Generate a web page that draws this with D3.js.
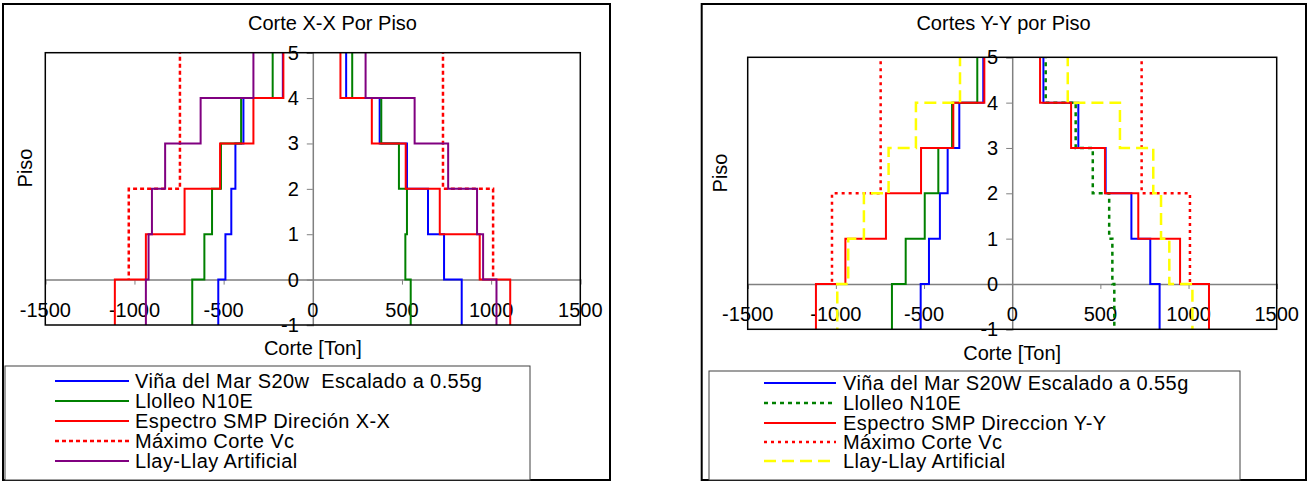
<!DOCTYPE html>
<html>
<head>
<meta charset="utf-8">
<script src="https://cdn.jsdelivr.net/npm/d3@7"></script>
<style>
  body { margin: 0; background: #fff; }
  svg text { font-family: "Liberation Sans", Arial, sans-serif; fill: #000; white-space: pre; }
</style>
</head>
<body>
<div id="chart"></div>
<script>
// story boundaries, top to bottom (value i applies between boundary i and i+1)
const pisoBounds = [5, 4, 3, 2, 1, 0, -1];
const vcBounds = [5, 2, 0];
const xTicks = [-1500, -1000, -500, 0, 500, 1000, 1500];
const yTicks = [-1, 0, 1, 2, 3, 4, 5];

// Corte X-X
const vinaXNeg = [-168, -389, -434, -457, -490, -530];
const vinaXPos = [187, 375, 528, 646, 736, 835];
const llolleoXNeg = [-225, -402, -515, -565, -608, -676];
const llolleoXPos = [221, 384, 483, 528, 519, 549];
const espectroXNeg = [-165, -333, -520, -719, -936, -1110];
const espectroXPos = [155, 331, 521, 712, 936, 1107];
const vcXNeg = [-745, -1032];
const vcXPos = [730, 1011];
const llayXNeg = [-333, -629, -828, -902, -921, -936];
const llayXPos = [296, 571, 759, 921, 955, 1030];

// Cortes Y-Y
const vinaYNeg = [-164, -300, -366, -410, -472, -519];
const vinaYPos = [177, 375, 530, 676, 783, 836];
const llolleoYNeg = [-198, -341, -419, -496, -604, -682];
const llolleoYPos = [190, 360, 457, 550, 568, 579];
const espectroYNeg = [-158, -334, -517, -716, -946, -1113];
const espectroYPos = [158, 334, 526, 715, 952, 1116];
const vcYNeg = [-746, -1022];
const vcYPos = [734, 1008];
const llayYNeg = [-296, -546, -701, -841, -930, -992];
const llayYPos = [315, 611, 800, 844, 891, 1022];

const W = 1313, H = 482;
const svg = d3.select('#chart').append('svg').attr('width', W).attr('height', H);

// line styles
const solid = null, dotted = '4,3', dashed = '12,6';

function stepPoints(bounds, values) {
    const pts = [];
    values.forEach(function (v, i) {
        pts.push([v, bounds[i]]);
        pts.push([v, bounds[i + 1]]);
    });
    return pts;
}

function drawChart(o) {
    const g = svg.append('g');

    // outer frame
    g.append('rect')
        .attr('x', o.frame[0]).attr('y', o.frame[1])
        .attr('width', o.frame[2]).attr('height', o.frame[3])
        .attr('fill', '#fff').attr('stroke', '#000').attr('stroke-width', 2);

    const x = d3.scaleLinear().domain([-1500, 1500]).range([o.plot[0], o.plot[1]]);
    const y = d3.scaleLinear().domain([-1, 5]).range([o.plot[3], o.plot[2]]);

    // x axis along piso 0
    g.append('g')
        .attr('transform', `translate(0,${y(0)})`)
        .call(d3.axisBottom(x).tickValues([-1000, -500, 500, 1000]).tickSize(5).tickFormat(''))
        .call(function (a) {
            a.select('.domain').attr('stroke', '#808080').attr('stroke-width', 1.5);
            a.selectAll('line').attr('stroke', '#808080');
        });

    // y axis along corte 0
    g.append('g')
        .attr('transform', `translate(${x(0)},0)`)
        .call(d3.axisLeft(y).tickValues(yTicks).tickSize(6).tickFormat(''))
        .call(function (a) {
            a.select('.domain').attr('stroke', '#808080').attr('stroke-width', 1.5);
            a.selectAll('line').attr('stroke', '#808080');
        });

    // tick labels
    g.selectAll('.xlab').data(xTicks).enter().append('text')
        .attr('x', function (d) { return x(d); })
        .attr('y', y(0) + 37.5)
        .attr('text-anchor', 'middle')
        .style('font-size', '20px')
        .text(function (d) { return d; });

    g.selectAll('.ylab').data(yTicks).enter().append('text')
        .attr('x', x(0) - 14)
        .attr('y', function (d) { return y(d) + 7; })
        .attr('text-anchor', 'end')
        .style('font-size', '20px')
        .text(function (d) { return d; });

    const line = d3.line()
        .x(function (d) { return x(d[0]); })
        .y(function (d) { return y(d[1]); });

    // series
    o.series.forEach(function (s) {
        [[s.neg, s.dashNeg], [s.pos, s.dashPos]].forEach(function (side) {
            g.append('path')
                .attr('d', line(stepPoints(s.bounds, side[0])))
                .attr('fill', 'none')
                .attr('stroke', s.color)
                .attr('stroke-width', side[1] ? 2.5 : 2)
                .attr('stroke-dasharray', side[1])
                .attr('stroke-dashoffset', side[1] ? 3 : null);
        });
    });

    // plot border
    g.append('rect')
        .attr('x', o.plot[0]).attr('y', o.plot[2])
        .attr('width', o.plot[1] - o.plot[0]).attr('height', o.plot[3] - o.plot[2])
        .attr('fill', 'none').attr('stroke', '#000').attr('stroke-width', 1.5);

    // titles
    g.append('text')
        .attr('x', o.titlePos[0]).attr('y', o.titlePos[1])
        .attr('text-anchor', 'middle').style('font-size', '20px')
        .text(o.title);

    g.append('text')
        .attr('x', (o.plot[0] + o.plot[1]) / 2).attr('y', o.xLabelY)
        .attr('text-anchor', 'middle').style('font-size', '20px')
        .text('Corte [Ton]');

    g.append('text')
        .attr('transform', `translate(${o.yLabelPos[0]},${o.yLabelPos[1]}) rotate(-90)`)
        .attr('text-anchor', 'middle').attr('dy', '0.35em').style('font-size', '20px')
        .text('Piso');

    // legend
    const lg = o.legend;
    g.append('rect')
        .attr('x', lg.box[0]).attr('y', lg.box[1])
        .attr('width', lg.box[2]).attr('height', lg.box[3])
        .attr('fill', '#fff').attr('stroke', '#404040').attr('stroke-width', 1);

    const items = g.selectAll('.legend')
        .data(o.series)
        .enter().append('g')
        .attr('transform', function (d, i) { return `translate(0,${lg.rows[i]})`; });

    items.append('line')
        .attr('x1', lg.lineX[0]).attr('x2', lg.lineX[1])
        .attr('stroke', function (d) { return d.color; })
        .attr('stroke-width', function (d) { return d.legendDash ? 2.5 : 2; })
        .attr('stroke-dasharray', function (d) { return d.legendDash; });

    items.append('text')
        .attr('x', lg.textX).attr('y', 7)
        .style('font-size', '20px')
        .style('letter-spacing', '0.4px')
        .text(function (d) { return d.name; });
}

drawChart({
    frame: [3, 4, 607, 476],
    plot: [45.3, 580.3, 52.7, 325],
    title: 'Corte X-X Por Piso',
    titlePos: [332.5, 30],
    xLabelY: 355,
    yLabelPos: [25, 168],
    legend: {box: [5, 366, 525, 114], lineX: [55, 129], textX: 135, rows: [381, 401, 421, 441, 461]},
    series: [
        {name: 'Viña del Mar S20w  Escalado a 0.55g', color: '#0000ff', bounds: pisoBounds, neg: vinaXNeg, pos: vinaXPos, dashNeg: solid, dashPos: solid, legendDash: solid},
        {name: 'Llolleo N10E', color: '#008000', bounds: pisoBounds, neg: llolleoXNeg, pos: llolleoXPos, dashNeg: solid, dashPos: solid, legendDash: solid},
        {name: 'Espectro SMP Direción X-X', color: '#ff0000', bounds: pisoBounds, neg: espectroXNeg, pos: espectroXPos, dashNeg: solid, dashPos: solid, legendDash: solid},
        {name: 'Máximo Corte Vc', color: '#ff0000', bounds: vcBounds, neg: vcXNeg, pos: vcXPos, dashNeg: dotted, dashPos: dotted, legendDash: dotted},
        {name: 'Llay-Llay Artificial', color: '#800080', bounds: pisoBounds, neg: llayXNeg, pos: llayXPos, dashNeg: solid, dashPos: solid, legendDash: solid}
    ]
});

drawChart({
    frame: [701.7, 4, 604.3, 476],
    plot: [747.7, 1276.7, 57.3, 329.3],
    title: 'Cortes Y-Y por Piso',
    titlePos: [1003.5, 30],
    xLabelY: 360,
    yLabelPos: [720, 173],
    legend: {box: [709, 371, 531, 109], lineX: [764, 836], textX: 843, rows: [383, 403, 423, 442, 461]},
    series: [
        {name: 'Viña del Mar S20W Escalado a 0.55g', color: '#0000ff', bounds: pisoBounds, neg: vinaYNeg, pos: vinaYPos, dashNeg: solid, dashPos: solid, legendDash: solid},
        {name: 'Llolleo N10E', color: '#008000', bounds: pisoBounds, neg: llolleoYNeg, pos: llolleoYPos, dashNeg: solid, dashPos: '4,4', legendDash: '4,4'},
        {name: 'Espectro SMP Direccion Y-Y', color: '#ff0000', bounds: pisoBounds, neg: espectroYNeg, pos: espectroYPos, dashNeg: solid, dashPos: solid, legendDash: solid},
        {name: 'Máximo Corte Vc', color: '#ff0000', bounds: vcBounds, neg: vcYNeg, pos: vcYPos, dashNeg: '3,4', dashPos: '3,4', legendDash: '3,4'},
        {name: 'Llay-Llay Artificial', color: '#ffff00', bounds: pisoBounds, neg: llayYNeg, pos: llayYPos, dashNeg: dashed, dashPos: dashed, legendDash: dashed}
    ]
});
</script>
</body>
</html>
